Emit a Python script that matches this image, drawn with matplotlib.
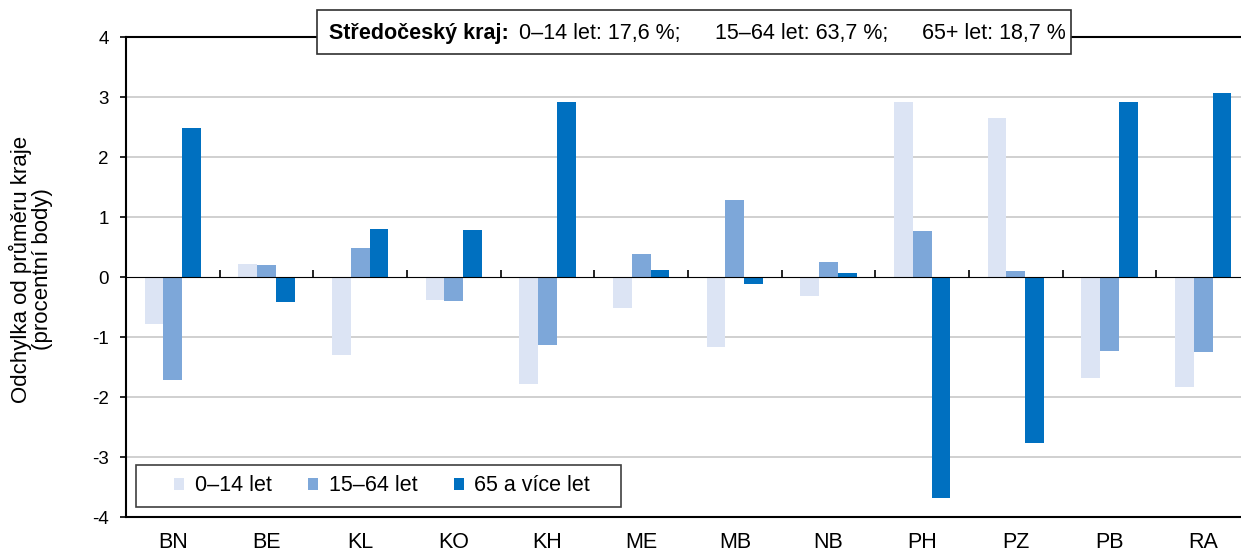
import numpy as np
import matplotlib as mpl; mpl.use("Agg")
import matplotlib.pyplot as plt
from matplotlib.patches import Rectangle

mpl.rcParams.update({"font.family": ["Liberation Sans", "DejaVu Sans"], "font.size": 15.5,
                     "axes.unicode_minus": False})

okresy = ["BN", "BE", "KL", "KO", "KH", "ME", "MB", "NB", "PH", "PZ", "PB", "RA"]
deti   = [-0.78, 0.22, -1.30, -0.39, -1.79, -0.52, -1.17, -0.32, 2.92, 2.65, -1.69, -1.83]
prod   = [-1.72, 0.20, 0.49, -0.40, -1.13, 0.39, 1.28, 0.25, 0.76, 0.10, -1.23, -1.25]
senior = [2.49, -0.42, 0.80, 0.78, 2.92, 0.12, -0.11, 0.06, -3.68, -2.76, 2.91, 3.07]
serie_lab = ["0–14 let", "15–64 let", "65 a více let"]
kraj_txt = ["0–14 let: 17,6 %;", "15–64 let: 63,7 %;", "65+ let: 18,7 %"]

COL = ["#dce4f4", "#7da7d9", "#0070c0"]
W, H = 1241, 551
fig = plt.figure(figsize=(W/100, H/100), dpi=100)
ax = fig.add_axes([126/W, 34/H, (1250-126)/W, 480/H])

x = np.arange(len(okresy))
for i, (vals, lab) in enumerate(zip([deti, prod, senior], serie_lab)):
    ax.bar(x + (i-1)*0.2, vals, width=0.2, color=COL[i], label=lab, zorder=3, lw=0)

ax.set_xlim(-0.5, len(okresy)-0.5)
ax.set_ylim(-4, 4)
ax.set_yticks(range(-4, 5))
ax.set_xticks(x)
ax.set_xticklabels(okresy)
ax.tick_params(axis="x", length=0, pad=11)
ax.tick_params(axis="y", direction="out", length=4.5, width=1.2, pad=8, labelsize=13.5)
for g in [-3, -2, -1, 1, 2, 3]:
    ax.axhline(g, color="#c8c8c8", lw=1.2, zorder=1)
for s in ["left", "bottom", "top"]:
    ax.spines[s].set_linewidth(1.5)
ax.spines["right"].set_visible(False)

# osa v nule s dílky mezi okresy
sec = ax.secondary_xaxis(0.5)
sec.set_xticks(np.arange(0.5, len(okresy)-0.5, 1))
sec.set_xticklabels([])
sec.tick_params(direction="out", length=5, width=1.2)
sec.spines["bottom"].set_linewidth(1.8)
sec.set_zorder(4)

fig.text(31/W, 1-269/H, "Odchylka od průměru kraje\n(procentní body)", rotation=90,
         ha="center", va="center", multialignment="center", linespacing=1.0, fontsize=16)

# legenda bez vlastního rámu + rám podle předlohy
leg = ax.legend(loc="center left", bbox_to_anchor=(0.0427, 0.0646), ncol=3, frameon=False,
                handlelength=0.47, handleheight=0.47, handletextpad=0.5,
                columnspacing=1.68, borderpad=0, borderaxespad=0, fontsize=15.5)
ax.add_patch(Rectangle((0.0085, 0.0208), 0.4315, 0.0875, transform=ax.transAxes,
                       facecolor="none", edgecolor="#404040", lw=1.2, zorder=6))

# rámeček s krajskými hodnotami
fig.patches.append(Rectangle((317/W, 1-54/H), (1071-317)/W, 44/H, transform=fig.transFigure,
                             facecolor="white", edgecolor="#303030", lw=1.2, zorder=10))
yy = 1-33/H
fig.text(329/W, yy, "Středočeský kraj:", fontweight="bold", va="center", zorder=11)
for xp, t in zip([519, 715, 922], kraj_txt):
    fig.text(xp/W, yy, t, va="center", zorder=11)

fig.savefig("out.png", dpi=100)
